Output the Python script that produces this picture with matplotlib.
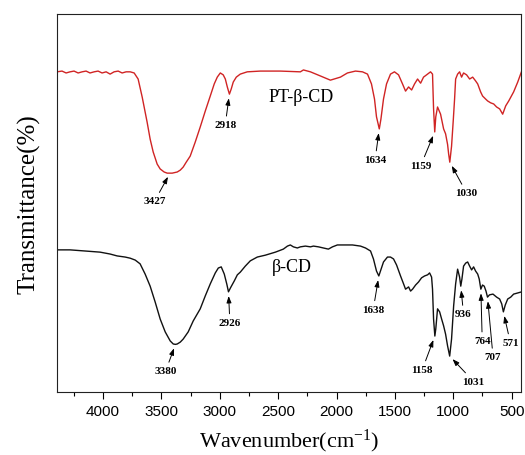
# -*- coding: UTF-8 -*-
import numpy as np
import matplotlib
matplotlib.use('Agg')
import matplotlib.pyplot as plt
from matplotlib.ticker import MultipleLocator

plt.rcParams['font.family'] = ['Liberation Serif', 'DejaVu Serif']
plt.rcParams['mathtext.fontset'] = 'custom'
plt.rcParams['mathtext.rm'] = 'Liberation Serif'
plt.rcParams['mathtext.default'] = 'regular'

# PT-beta-CD spectrum (red)
wn_pt = [4395, 4352, 4317, 4283, 4249, 4214, 4180, 4146, 4112, 4077, 4043, 4009, 3974, 3940, 3906,
         3871, 3837, 3803, 3768, 3734, 3700, 3665, 3623, 3597, 3571, 3537, 3511, 3477, 3451, 3427,
         3408, 3365, 3339, 3314, 3288, 3254, 3211, 3168, 3125, 3082, 3048, 3022, 2996, 2971, 2953,
         2936, 2918, 2902, 2885, 2859, 2825, 2765, 2653, 2482, 2310, 2284, 2224, 2138, 2053, 1967,
         1907, 1838, 1778, 1735, 1701, 1675, 1658, 1634, 1620, 1598, 1572, 1538, 1504, 1469, 1435,
         1409, 1383, 1357, 1332, 1306, 1280, 1255, 1229, 1195, 1178, 1169, 1159, 1150, 1135, 1109,
         1083, 1066, 1049, 1040, 1030, 1015, 1000, 989, 980, 963, 946, 929, 912, 886, 860,
         834, 809, 791, 766, 749, 723, 706, 680, 654, 629, 603, 577, 551, 525, 483,
         448, 414]
t_pt = [84.7, 84.9, 84.4, 84.7, 84.9, 84.4, 84.7, 84.9, 84.4, 84.7, 84.9, 84.4, 84.7, 84.1, 84.7,
        84.9, 84.4, 84.7, 84.7, 84.4, 82.8, 78.0, 71.4, 66.9, 63.5, 60.3, 59.0, 58.2, 57.9, 57.9,
        57.9, 58.2, 58.7, 59.5, 60.8, 62.4, 66.1, 70.1, 74.3, 78.3, 81.5, 83.3, 84.4, 83.9, 82.8,
        80.7, 78.8, 80.2, 82.0, 83.3, 84.1, 84.7, 84.9, 84.9, 84.7, 85.2, 84.7, 83.6, 82.5, 83.3,
        84.4, 84.9, 84.7, 84.1, 81.5, 77.5, 72.8, 69.6, 72.2, 77.5, 81.5, 84.1, 84.7, 83.9, 81.5,
        79.6, 80.7, 79.9, 81.5, 82.8, 81.7, 83.3, 83.9, 84.7, 84.1, 74.9, 68.8, 72.8, 75.4, 73.5,
        69.6, 68.3, 65.5, 63.0, 60.8, 65.0, 72.0, 77.5, 82.8, 84.1, 84.7, 83.3, 84.4, 83.9, 82.8,
        83.3, 82.3, 81.5, 79.4, 78.3, 77.5, 77.0, 76.5, 76.2, 75.4, 74.9, 73.5, 75.7, 77.0, 79.4,
        82.0, 84.9]

# beta-CD spectrum (black)
wn_cd = [4395, 4283, 4154, 4026, 3940, 3880, 3811, 3768, 3725, 3683, 3640, 3597, 3554, 3511, 3468,
         3425, 3399, 3380, 3365, 3339, 3314, 3271, 3228, 3168, 3125, 3082, 3039, 3013, 2988, 2962,
         2940, 2926, 2908, 2876, 2850, 2825, 2782, 2739, 2679, 2610, 2524, 2456, 2421, 2396, 2370,
         2336, 2310, 2267, 2224, 2198, 2155, 2113, 2070, 2035, 1993, 1924, 1864, 1795, 1752, 1709,
         1684, 1658, 1638, 1624, 1598, 1564, 1538, 1512, 1486, 1452, 1426, 1409, 1383, 1366, 1349,
         1323, 1298, 1272, 1246, 1220, 1203, 1186, 1178, 1169, 1158, 1150, 1135, 1117, 1100, 1083,
         1066, 1049, 1031, 1015, 997, 980, 963, 946, 936, 926, 912, 894, 877, 860, 843,
         826, 809, 791, 778, 764, 750, 735, 720, 707, 690, 660, 629, 603, 585, 571,
         555, 534, 508, 483, 448, 414]
t_cd = [37.6, 37.6, 37.3, 37.0, 36.5, 36.0, 35.7, 35.4, 34.9, 33.9, 31.2, 28.0, 23.8, 19.3, 15.9,
        13.5, 12.7, 12.6, 12.7, 13.2, 14.0, 15.9, 18.8, 22.0, 25.4, 28.6, 31.5, 32.8, 33.1, 31.2,
        28.5, 26.5, 27.6, 29.4, 31.0, 31.7, 33.3, 34.7, 35.7, 36.2, 37.0, 37.8, 38.6, 38.9, 38.4,
        38.1, 38.4, 38.6, 38.4, 38.6, 38.4, 38.1, 37.8, 38.4, 38.9, 38.9, 38.9, 38.6, 38.1, 37.3,
        35.2, 32.0, 30.7, 32.0, 34.4, 35.7, 35.7, 35.2, 33.6, 30.7, 28.6, 27.2, 27.8, 26.7, 27.2,
        28.3, 29.1, 30.2, 30.7, 31.0, 31.5, 30.4, 27.2, 19.3, 14.8, 16.7, 22.0, 21.2, 19.3, 17.5,
        15.3, 12.2, 9.5, 14.0, 22.8, 28.6, 32.5, 30.4, 28.0, 29.9, 33.3, 34.1, 34.4, 33.3, 32.3,
        33.1, 32.0, 31.2, 29.9, 27.2, 28.3, 28.0, 26.7, 25.1, 25.7, 25.9, 25.1, 24.6, 23.3, 21.2,
        23.0, 24.6, 25.1, 25.9, 26.2, 26.5]

# peak labels: wavenumber, transmittance at the peak, text offset (points)
pk_pt = [3427, 2918, 1634, 1159, 1030]
pk_pt_t = [57.9, 78.8, 69.6, 68.8, 60.8]
off_pt = [(-11, -20), (-3, -22), (-3, -22), (-10, -24), (12, -22)]

pk_cd = [3380, 2926, 1638, 1158, 1031, 936, 764, 707, 571]
pk_cd_t = [12.6, 26.5, 30.7, 14.8, 9.5, 28.0, 27.2, 25.1, 21.2]
off_cd = [(-7, -19), (1, -22), (-4, -24), (-9, -24), (17, -18), (2, -20), (1, -37), (4, -43), (5, -22)]

fig = plt.figure(figsize=(5.25, 4.56), dpi=100)
ax = fig.add_axes([57 / 525, 63 / 456, 464 / 525, 378 / 456])

ax.plot(wn_pt, t_pt, color='#d02424', linewidth=1.0)
ax.plot(wn_cd, t_cd, color='#111111', linewidth=1.0)

arrow = dict(arrowstyle='-|>,head_length=0.5,head_width=0.18', color='k', lw=0.7, shrinkA=1, shrinkB=3)
for w, t, o in zip(pk_pt + pk_cd, pk_pt_t + pk_cd_t, off_pt + off_cd):
    ax.annotate(str(w), xy=(w, t), xytext=o, textcoords='offset points', ha='center', va='center',
                fontsize=8, fontweight='bold', arrowprops=arrow)

ax.text(2584, 78.3, 'PT-β-CD', fontsize=13, ha='left', va='center')
ax.text(2550, 33.3, 'β-CD', fontsize=13, ha='left', va='center')

ax.set_xlim(4395, 420)
ax.set_ylim(0, 100)
ax.set_yticks([])
ax.xaxis.set_major_locator(MultipleLocator(500))
ax.xaxis.set_minor_locator(MultipleLocator(250))
ax.tick_params(axis='x', which='major', direction='out', length=5, width=0.8, pad=4)
ax.tick_params(axis='x', which='minor', direction='out', length=3, width=0.8)
for lab in ax.get_xticklabels():
    lab.set_fontfamily(['Liberation Sans', 'DejaVu Sans'])
    lab.set_fontsize(11)
for s in ax.spines.values():
    s.set_linewidth(0.8)
    s.set_color('#222222')

ax.set_xlabel('Wavenumber(cm$^{-1}$)', fontsize=16, labelpad=6)
ax.set_ylabel('Transmittance(%)', fontsize=18, labelpad=12)

plt.savefig('out.png', dpi=100)
